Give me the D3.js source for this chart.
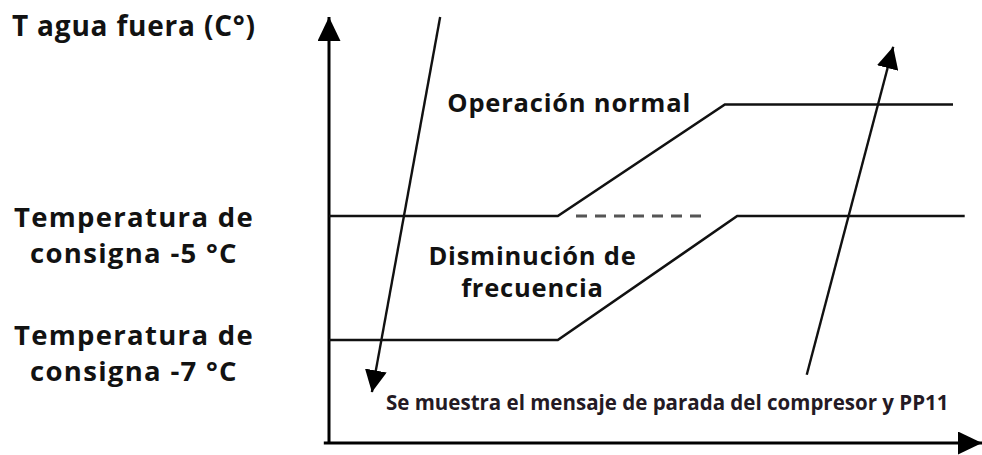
<!DOCTYPE html>
<html>
<head>
<meta charset="utf-8">
<script src="https://cdn.jsdelivr.net/npm/d3@7"></script>
<style>
  html, body { margin: 0; padding: 0; background: #fff; }
  svg { display: block; }
  text { font-family: "Open Sans", "Noto Sans", sans-serif; font-weight: 700; fill: #121212; }
</style>
</head>
<body>
<svg id="chart" width="982" height="455"></svg>
<script>
// ---- data (time in arbitrary units, temperature in °C) ----
const normalLine = [            // "Operación normal" threshold curve
  {t: 0.00, T: -5.0},
  {t: 3.52, T: -5.0},
  {t: 6.09, T: -3.2},
  {t: 9.60, T: -3.2}
];
const reductionLine = [         // "Disminución de frecuencia" threshold curve
  {t: 0.00, T: -7.0},
  {t: 3.52, T: -7.0},
  {t: 6.28, T: -5.0},
  {t: 9.78, T: -5.0}
];
const dashedSegment = [
  {t: 3.80, T: -5.0},
  {t: 5.83, T: -5.0}
];
const fallingArrow = [ {t: 1.71, T: -1.79}, {t: 0.66, T: -7.84} ];
const risingArrow  = [ {t: 7.35, T: -7.56}, {t: 8.68, T: -2.27} ];

const yAxisTitle = "T agua fuera (C°)";
const setpointLabels = [
  {T: -5.18, lines: ["Temperatura de", "consigna -5 °C"]},
  {T: -7.08, lines: ["Temperatura de", "consigna -7 °C"]}
];
const regionLabels = [
  {t: 1.82, T: -3.32, lines: ["Operación normal"], anchor: "start"},
  {t: 3.13, T: -5.79, lines: ["Disminución de", "frecuencia"], anchor: "middle"}
];
const stopMessage = "Se muestra el mensaje de parada del compresor y PP11";

// ---- scales ----
const x = d3.scaleLinear().domain([0, 10]).range([329, 979]);
const y = d3.scaleLinear().domain([-8.66, -1.79]).range([443, 17]);

const svg = d3.select("#chart");
const defs = svg.append("defs");
function marker(id, w, h) {
  defs.append("marker")
    .attr("id", id)
    .attr("viewBox", `0 0 ${h} ${w}`)
    .attr("refX", h).attr("refY", w / 2)
    .attr("markerWidth", h).attr("markerHeight", w)
    .attr("markerUnits", "userSpaceOnUse")
    .attr("orient", "auto")
    .append("path")
    .attr("d", `M0,0 L${h},${w/2} L0,${w} Z`)
    .attr("fill", "#000");
}
marker("axisHead", 23, 24);
marker("arrowHead", 22, 22);

const line = d3.line().x(d => x(d.t)).y(d => y(d.T));

// axes
svg.append("line")
  .attr("x1", x(0)).attr("y1", y.range()[0])
  .attr("x2", x(0)).attr("y2", y.range()[1])
  .attr("stroke", "#000").attr("stroke-width", 3)
  .attr("marker-end", "url(#axisHead)");
svg.append("line")
  .attr("x1", x(-0.08)).attr("y1", y.range()[0])
  .attr("x2", 982).attr("y2", y.range()[0])
  .attr("stroke", "#000").attr("stroke-width", 3)
  .attr("marker-end", "url(#axisHead)");

// threshold curves
svg.append("path").datum(normalLine).attr("d", line)
  .attr("fill", "none").attr("stroke", "#111").attr("stroke-width", 2.6);
svg.append("path").datum(reductionLine).attr("d", line)
  .attr("fill", "none").attr("stroke", "#111").attr("stroke-width", 2.6);
svg.append("path").datum(dashedSegment).attr("d", line)
  .attr("fill", "none").attr("stroke", "#555").attr("stroke-width", 3)
  .attr("stroke-dasharray", "11,8");

// temperature trend arrows
[fallingArrow, risingArrow].forEach(a => {
  svg.append("path").datum(a).attr("d", line)
    .attr("fill", "none").attr("stroke", "#111").attr("stroke-width", 2.4)
    .attr("marker-end", "url(#arrowHead)");
});

// y axis title
svg.append("text").attr("x", 12).attr("y", 36)
  .style("font-size", "28px").style("letter-spacing", "0.8px").text(yAxisTitle);

// setpoint labels (one text element per line)
setpointLabels.forEach(s => {
  s.lines.forEach((l, i) => {
    svg.append("text").attr("text-anchor", "middle")
      .style("font-size", "27.5px").style("letter-spacing", "1.3px")
      .attr("x", 134).attr("y", y(s.T) + i * 36).text(l);
  });
});

// region labels
regionLabels.forEach(r => {
  r.lines.forEach((l, i) => {
    svg.append("text").attr("text-anchor", r.anchor)
      .style("font-size", "25.5px").style("letter-spacing", "0.8px")
      .attr("x", x(r.t)).attr("y", y(r.T) + i * 32).text(l);
  });
});

// bottom message
svg.append("text").attr("x", 386).attr("y", 410)
  .style("font-size", "20.5px").style("fill", "#241a24").text(stopMessage);
</script>
</body>
</html>
